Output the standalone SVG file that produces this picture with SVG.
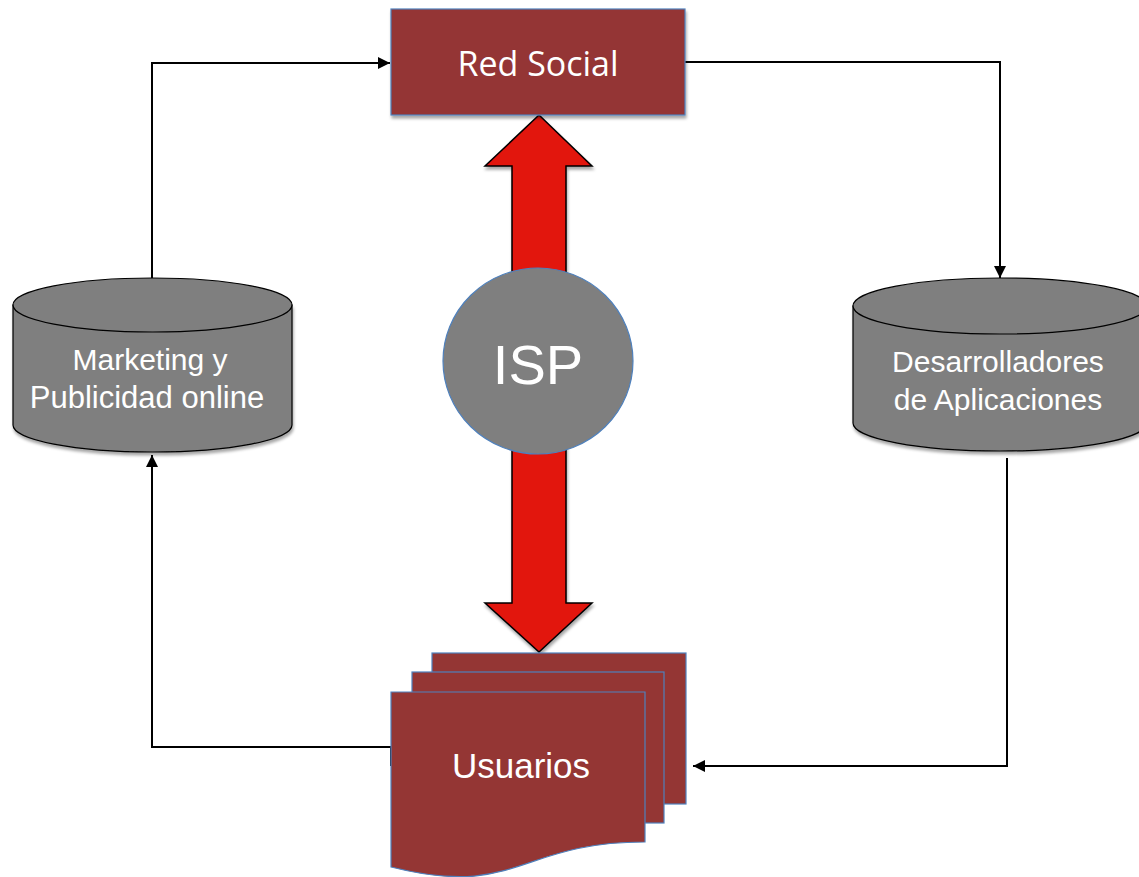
<svg xmlns="http://www.w3.org/2000/svg" width="1139" height="877" viewBox="0 0 1139 877">
<defs>
<style>
.box{fill:#943634;stroke:#4f81bd;stroke-width:1.2}
.cyl{fill:#7f7f7f;stroke:#000;stroke-width:1.2}
.lbl{fill:#fff;font-family:"Liberation Sans",Arial,sans-serif;text-anchor:middle}
.con{fill:none;stroke:#000;stroke-width:2}
</style>
<marker id="ah" viewBox="0 0 12 12" refX="12" refY="6" markerWidth="12" markerHeight="12" markerUnits="userSpaceOnUse" orient="auto">
<path d="M0,0 L12,6 L0,12 Z" fill="#000"/>
</marker>
<filter id="sh" x="-10%" y="-10%" width="130%" height="130%">
<feDropShadow dx="1" dy="3" stdDeviation="1.5" flood-color="#000" flood-opacity="0.35"/>
</filter>
</defs>
<rect width="1139" height="877" fill="#fff"/>

<g id="connectors">
<path class="con" d="M152,278 L152,63 L390,63" marker-end="url(#ah)"/>
<path class="con" d="M685,62 L1000,62 L1000,278" marker-end="url(#ah)"/>
<path class="con" d="M1007,458 L1007,766 L693,766" marker-end="url(#ah)"/>
<path class="con" d="M391,766 L391,747 L152,747 L152,455" marker-end="url(#ah)"/>
</g>

<g id="arrow-isp">
<path d="M539,115 L592,166 L566,166 L566,603 L592,603 L539,652 L485,603 L512,603 L512,166 L485,166 Z" fill="#e2120e" stroke="#000" stroke-width="1.5" stroke-linejoin="miter" filter="url(#sh)"/>
</g>

<g id="red-social">
<rect class="box" x="391" y="9" width="294" height="106" filter="url(#sh)"/>
<text x="538" y="76" fill="#fff" font-family="'Open Sans','Liberation Sans',sans-serif" font-size="34" text-anchor="middle">Red Social</text>
</g>

<g id="isp">
<ellipse cx="538" cy="361" rx="95" ry="93" fill="#7f7f7f" stroke="#4f81bd" stroke-width="1.2"/>
<text class="lbl" x="538" y="384" font-size="56">ISP</text>
</g>

<g id="marketing">
<path class="cyl" d="M13,305 L13,425 A139.5,27 0 0 0 292,425 L292,305 Z" filter="url(#sh)"/>
<ellipse class="cyl" cx="152.5" cy="305" rx="139.5" ry="27"/>
<text class="lbl" x="150" y="370" font-size="30">Marketing y</text>
<text class="lbl" x="147" y="408" font-size="31">Publicidad online</text>
</g>

<g id="desarrolladores">
<path class="cyl" d="M853,306 L853,423 A147,28 0 0 0 1147,423 L1147,306 Z" filter="url(#sh)"/>
<ellipse class="cyl" cx="1000" cy="306" rx="147" ry="28"/>
<text class="lbl" x="998" y="372" font-size="30">Desarrolladores</text>
<text class="lbl" x="998" y="410" font-size="30">de Aplicaciones</text>
</g>

<g id="usuarios">
<rect class="box" x="432" y="653" width="254" height="151"/>
<rect class="box" x="412" y="672" width="252" height="151"/>
<path class="box" d="M391,692 L645,692 L645,842 C518,842 518,899 391,867 Z"/>
<text class="lbl" x="521" y="778" font-size="35">Usuarios</text>
</g>
</svg>
